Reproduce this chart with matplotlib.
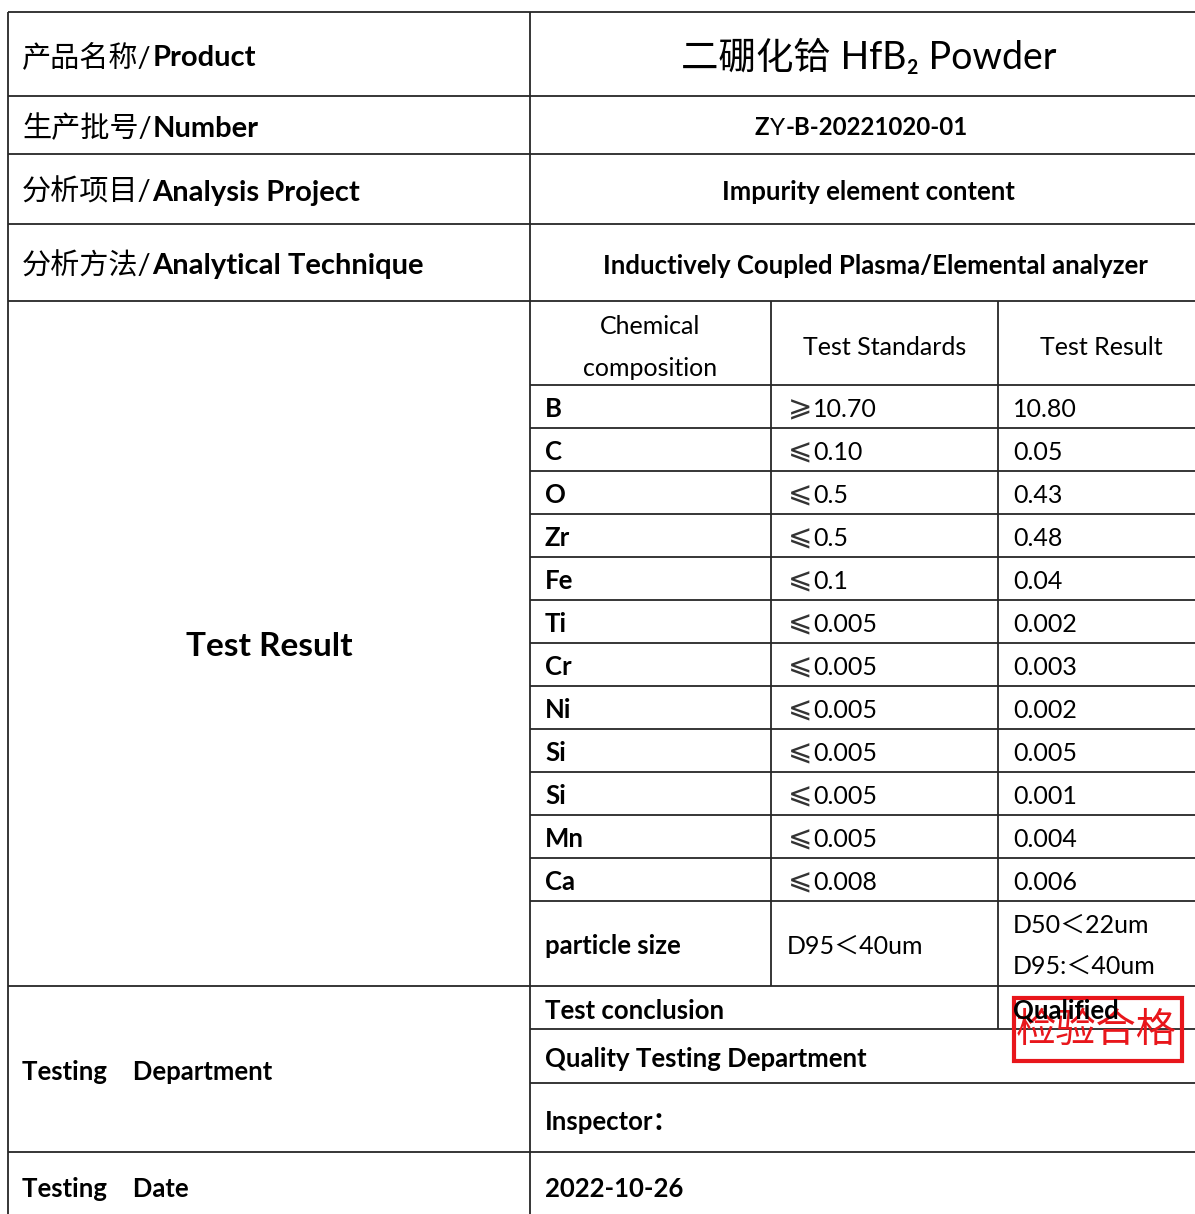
import matplotlib
matplotlib.use('Agg')
import matplotlib.pyplot as plt

W, H = 1195, 1214

# header block (left label = chinese part + bold english part)
label_cn = ['产品名称/', '生产批号/', '分析项目/', '分析方法/']
label_en = ['Product', 'Number', 'Analysis Project', 'Analytical Technique']
product_name = '二硼化铪 HfB₂ Powder'
batch_no = [('Z', 'bold'), ('Y', 'normal'), ('-B-20221020-01', 'bold')]
project = 'Impurity element content'
technique = 'Inductively Coupled Plasma/Elemental analyzer'

# composition table
col_headers = [['Chemical', 'composition'], 'Test Standards', 'Test Result']
elements = ['B', 'C', 'O', 'Zr', 'Fe', 'Ti', 'Cr', 'Ni', 'Si', 'Si', 'Mn', 'Ca']
std_sign = ['⩾', '⩽', '⩽', '⩽', '⩽', '⩽', '⩽', '⩽', '⩽', '⩽', '⩽', '⩽']
std_value = ['10.70', '0.10', '0.5', '0.5', '0.1', '0.005', '0.005',
             '0.005', '0.005', '0.005', '0.005', '0.008']
results = ['10.80', '0.05', '0.43', '0.48', '0.04', '0.002', '0.003',
           '0.002', '0.005', '0.001', '0.004', '0.006']
particle = ('particle size', 'D95＜40um', ['D50＜22um', 'D95:＜40um'])

conclusion = ('Test conclusion', 'Qualified')
department = 'Quality Testing Department'
inspector = 'Inspector：'
test_date = '2022-10-26'
stamp_text = '检验合格'

plt.rcParams['font.family'] = ['Lato', 'Noto Sans CJK SC', 'DejaVu Sans']

fig = plt.figure(figsize=(W / 100, H / 100), dpi=100)
ax = fig.add_axes([0, 0, 1, 1])
ax.set_xlim(0, W)
ax.set_ylim(H, 0)
ax.axis('off')
renderer = fig.canvas.get_renderer()

LC = '#262626'
LW = 1.3
x_left, x_mid, x_c2, x_c3, x_right = 8, 530, 771, 998, W

top_rows = [12, 96, 154, 224, 301]
chem_head_bot = 385
row_h = 43
rows_top = [chem_head_bot + i * row_h for i in range(len(elements))]
chem_bot = chem_head_bot + row_h * len(elements)
particle_bot = 986
concl_bot = 1029
dept_bot = 1083
insp_bot = 1152


def hline(y, x0=x_left, x1=x_right):
    ax.plot([x0, x1], [y, y], color=LC, lw=LW, solid_capstyle='butt')


def vline(x, y0, y1):
    ax.plot([x, x], [y0, y1], color=LC, lw=LW, solid_capstyle='butt')


def baseline(yc, size):
    return yc + 0.37 * size * 100 / 72


def runs(x, yc, parts, size, ha='left'):
    # parts: (text, weight) or (text, weight, extra text kwargs)
    objs = []
    for p in parts:
        kw = {'fontsize': size}
        if len(p) > 2:
            kw.update(p[2])
        objs.append(ax.text(x, baseline(yc, size), p[0], fontweight=p[1],
                            va='baseline', ha='left', **kw))
    widths = [t.get_window_extent(renderer).width for t in objs]
    start = x - sum(widths) / 2 if ha == 'center' else x
    for t, w in zip(objs, widths):
        t.set_x(start)
        start += w + 1


def txt(x, yc, s, size, weight='normal', ha='left', **kw):
    ax.text(x, baseline(yc, size), s, fontsize=size, fontweight=weight,
            va='baseline', ha=ha, **kw)


# grid lines
for y in top_rows:
    hline(y)
hline(chem_head_bot, x_mid)
for y in rows_top[1:]:
    hline(y, x_mid)
hline(chem_bot, x_mid)
hline(particle_bot)
hline(concl_bot, x_mid)
hline(dept_bot, x_mid)
hline(insp_bot)
vline(x_left, top_rows[0], H)
vline(x_mid, top_rows[0], H)
vline(x_c2, top_rows[-1], particle_bot)
vline(x_c3, top_rows[-1], concl_bot)

# header block
label_size = 21
for i in range(len(label_cn)):
    yc = (top_rows[i] + top_rows[i + 1]) / 2 + 1
    runs(22, yc, [(label_cn[i], 'normal'), (label_en[i], 'bold')], label_size)

txt(869, 55, product_name, 27, ha='center')
runs(860, 126, batch_no, 17.3, ha='center')
txt(868, 190, project, 18.5, 'bold', ha='center')
txt(875, 264, technique, 18.5, 'bold', ha='center')

# composition table
body = 18
bold = 18.5
sign_kw = {'fontsize': 21, 'family': ['DejaVu Sans'], 'color': '#333333'}
txt(650, 325, col_headers[0][0], body, ha='center')
txt(650, 367, col_headers[0][1], body, ha='center')
txt(885, 346, col_headers[1], body, ha='center')
txt(1101, 346, col_headers[2], body, ha='center')
for i, el in enumerate(elements):
    yc = rows_top[i] + row_h / 2 + 1
    txt(545, yc, el, bold, 'bold')
    runs(788, yc, [(std_sign[i], 'normal', sign_kw), (std_value[i], 'normal')], body)
    txt(1013, yc, results[i], body)

yc = (chem_bot + particle_bot) / 2 + 1
txt(545, yc, particle[0], bold, 'bold')
txt(787, yc, particle[1], body)
txt(1013, yc - 21, particle[2][0], body)
txt(1013, yc + 20, particle[2][1], body)

txt(269, (top_rows[-1] + particle_bot) / 2, 'Test Result', 24, 'bold', ha='center')

# bottom block
txt(22, 1070, 'Testing\u3000Department', bold, 'bold')
txt(22, 1187, 'Testing\u3000Date', bold, 'bold')
txt(545, 1009, conclusion[0], bold, 'bold')
txt(545, 1057, department, bold, 'bold')
txt(545, 1120, inspector, bold, 'bold')
txt(545, 1187, test_date, bold, 'bold')

# red stamp
ax.add_patch(plt.Rectangle((1014, 998), 168, 63, fill=False,
                           edgecolor='#e8161b', lw=3, zorder=3))
ax.text(1096, 1030, stamp_text, fontsize=29, color='#e8161b', ha='center',
        va='center', fontweight='light', zorder=3)
txt(1013, 1009, conclusion[1], bold, 'bold', zorder=4)

fig.savefig('out.png', dpi=100)
